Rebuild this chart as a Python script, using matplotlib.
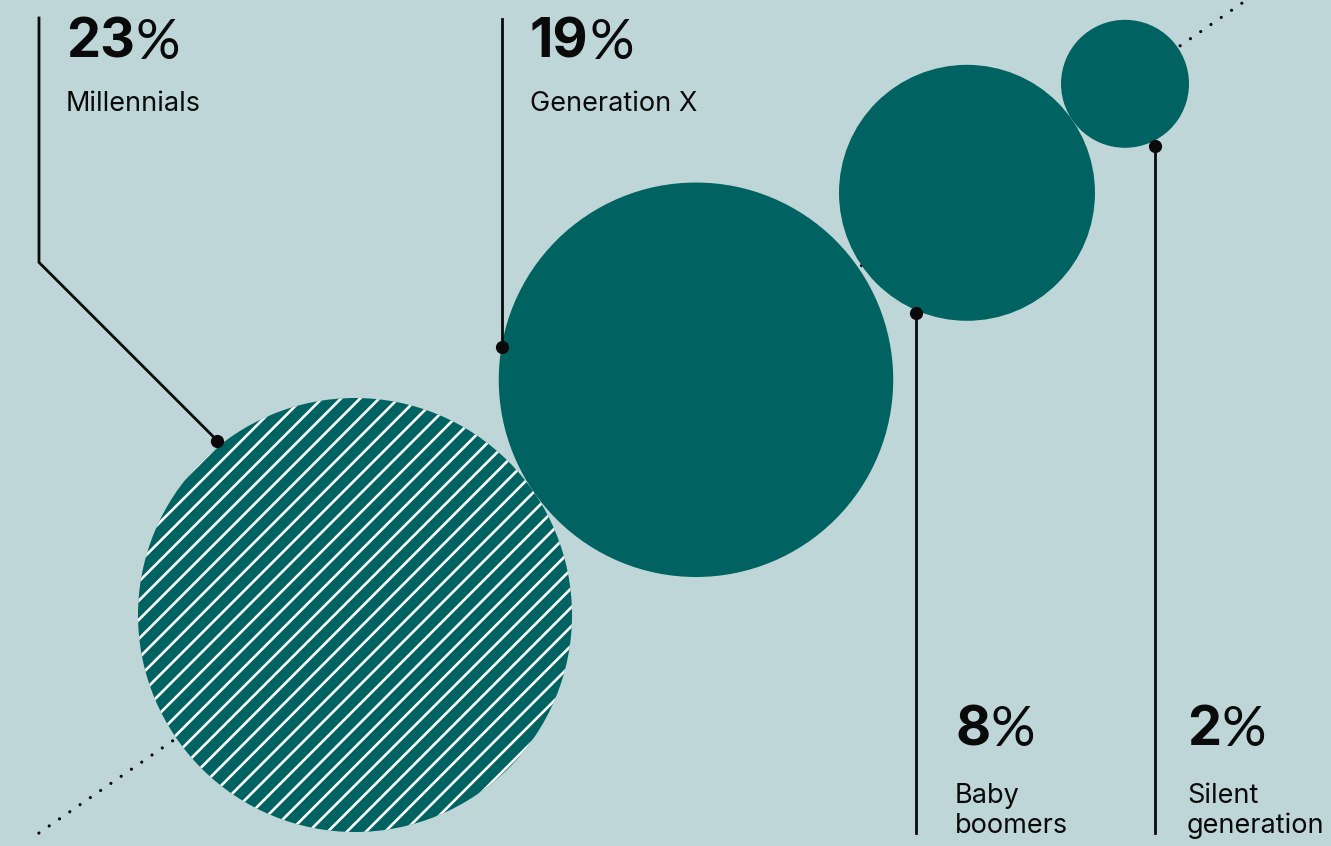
import numpy as np
import matplotlib.pyplot as plt
from matplotlib.patches import Circle
from matplotlib.collections import LineCollection

# Share of each generation
generations = ['Millennials', 'Generation X', 'Baby\nboomers', 'Silent\ngeneration']
shares = [23, 19, 8, 2]

bg = '#bfd6d8'
teal = '#006361'
ink = '#0a0a0a'

W, H = 1331, 846
fig = plt.figure(figsize=(W / 100, H / 100), dpi=100, facecolor=bg)
ax = fig.add_axes([0, 0, 1, 1])
ax.set_xlim(0, W)
ax.set_ylim(H, 0)
ax.set_aspect('equal')
ax.axis('off')

# circle area proportional to share, circles (nearly) touching along a diagonal
scale = 45.25
radii = scale * np.sqrt(shares)
gaps = [0, 4, 0]
ang = np.deg2rad(34.6)
u = np.array([np.cos(ang), -np.sin(ang)])
centers = [np.array([355.0, 615.0])]
for i in range(1, len(shares)):
    centers.append(centers[-1] + (radii[i - 1] + radii[i] + gaps[i - 1]) * u)

# dotted guide line
p0 = centers[0] - 384 * u
p1 = centers[0] + 2000 * u
ax.plot([p0[0], p1[0]], [p0[1], p1[1]], color=ink, lw=2.3,
        linestyle=(0, (0.01, 3.9)), dash_capstyle='round', zorder=1)

# circles
for i, (c, r) in enumerate(zip(centers, radii)):
    circ = Circle(c, r, facecolor=teal, edgecolor='none', zorder=2)
    ax.add_patch(circ)
    if i == 0:
        # white diagonal hatching for the first circle
        step = 13.5
        d1 = np.array([1, -1]) / np.sqrt(2)
        d2 = np.array([1, 1]) / np.sqrt(2)
        segs = []
        for n in np.arange(-r - step, r + step, step):
            a = c + n * d2 - (r + 10) * d1
            b = c + n * d2 + (r + 10) * d1
            segs.append([a, b])
        lc = LineCollection(segs, colors='white', linewidths=1.9, zorder=3)
        lc.set_clip_path(circ)
        ax.add_collection(lc)

# leader lines with dots on the circle edge
anchor_deg = [231.7, 189.7, 112.9, 63.8]
anchor_gap = [5, 0, 2, 5]
dots = []
for c, r, a, g in zip(centers, radii, anchor_deg, anchor_gap):
    t = np.deg2rad(a)
    dots.append(c + (r + g) * np.array([np.cos(t), np.sin(t)]))

lw = 2.0
# Millennials: diagonal then vertical up
d = dots[0]
ex = 39
ey = d[1] - (d[0] - ex)
ax.plot([d[0], ex, ex], [d[1], ey, 18], color=ink, lw=lw, zorder=4,
        solid_joinstyle='miter')
# Generation X: vertical up
ax.plot([dots[1][0], dots[1][0]], [dots[1][1], 19], color=ink, lw=lw, zorder=4)
# Baby boomers and silent: vertical down
for d in dots[2:]:
    ax.plot([d[0], d[0]], [d[1], 833], color=ink, lw=lw, zorder=4)
for d in dots:
    ax.plot(d[0], d[1], 'o', color=ink, ms=8.5, zorder=5)

# labels
font = 'Inter'
label_x = [66, 530, 955, 1187]
num_y = [58, 58, 745, 745]
name_y = [111, 111, 803, 803]
for g, s, x, ny, gy in zip(generations, shares, label_x, num_y, name_y):
    t = ax.text(x, ny, str(s), family=font, weight='bold', size=39,
                color=ink, va='baseline', ha='left', zorder=6)
    ax.annotate('%', xy=(1, 0), xycoords=t, xytext=(0.5, 0),
                textcoords='offset points', family='Lato', weight='normal',
                size=40, color=ink, va='bottom', ha='left', zorder=6)
    for k, line in enumerate(g.split('\n')):
        ax.text(x, gy + k * 30, line, family=font, size=19.5, color=ink,
                va='baseline', ha='left', zorder=6)

fig.savefig('out.png', dpi=100, facecolor=bg)
